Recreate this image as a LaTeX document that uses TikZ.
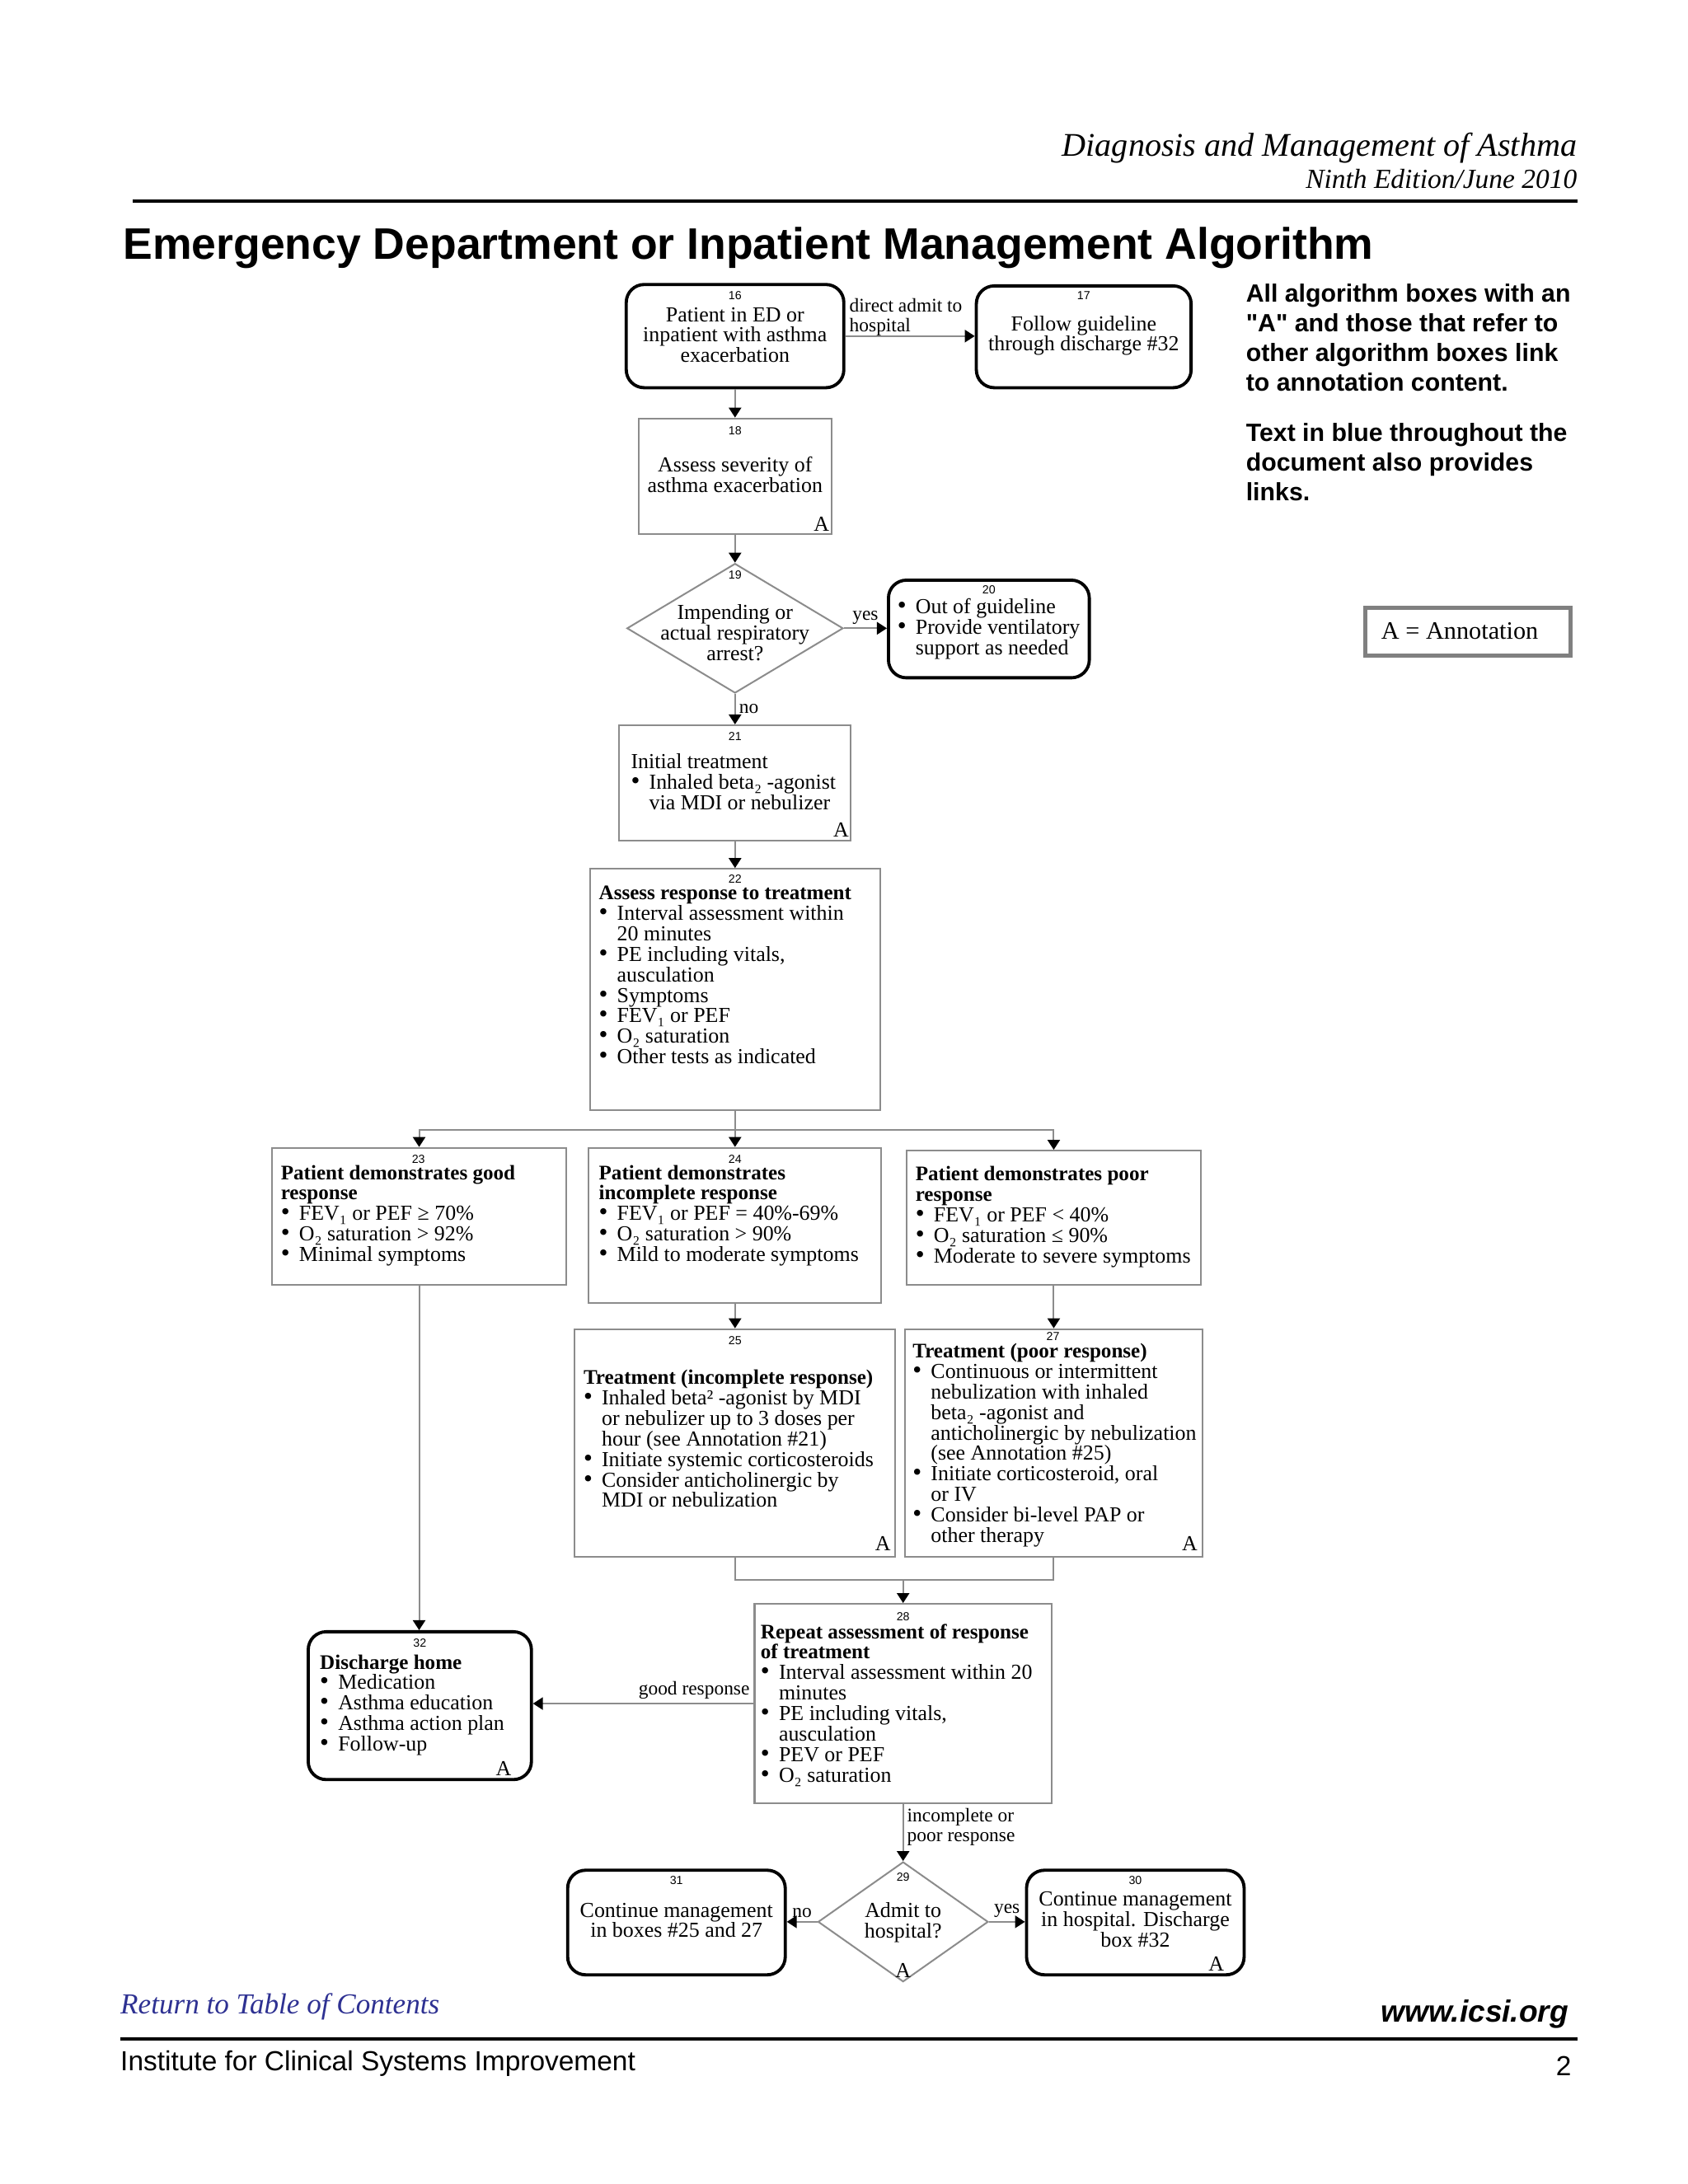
\documentclass[tikz,border=0pt]{standalone}
\usepackage{fontspec}
\setmainfont{Liberation Serif}
\setsansfont{Liberation Sans}
\usepackage{xcolor}
\usepackage{graphicx}
\usetikzlibrary{arrows.meta, fit, shapes.geometric}
\definecolor{linkblue}{RGB}{46,49,146}
\definecolor{boxgray}{gray}{0.55}
\newcommand{\boxfont}{\fontsize{7.75}{7.43}\selectfont\lineskiplimit=-5pt}
\newcommand{\bhead}[1]{{\fontsize{7.5}{7.43}\selectfont\bfseries #1}}
\newcommand{\bitem}{\makebox[6.6pt][l]{\scalebox{1.2}{\textbullet}}}
\newcommand{\bcont}{\hspace*{6.6pt}}
\tikzset{
    box/.style={draw=boxgray, line width=0.6pt, inner sep=0pt}, % plain algorithm box
    rbox/.style={draw=black, line width=1.15pt, rounded corners=6.5pt, inner sep=0pt}, % rounded start/end box
    dec/.style={draw=boxgray, line width=0.6pt, diamond, inner sep=0pt}, % decision box
    num/.style={anchor=base, inner sep=0pt, font=\fontsize{4.25}{5}\selectfont\sffamily}, % box number
    txt/.style={anchor=north west, inner sep=0pt, align=left, font=\boxfont}, % left aligned box text
    ctxt/.style={anchor=north, inner sep=0pt, align=center, font=\boxfont}, % centred box text
    amark/.style={anchor=base east, inner sep=0pt, font=\boxfont}, % annotation mark
    lbl/.style={inner sep=1.2pt, font=\fontsize{7}{7.3}\selectfont}, % connector label
    conn/.style={draw=boxgray, line width=0.6pt}, % plain connector
    arr/.style={conn, -{Triangle[width=4.5pt, length=3.6pt, color=black]}}, % connector with head
    note/.style={anchor=north west, inner sep=0pt, align=left, font=\fontsize{9.05}{10.82}\selectfont\sffamily\bfseries},
}

\begin{document}
\begin{tikzpicture}[x=0.5058pt, y=-0.5058pt]
    \useasboundingbox (0,0) rectangle (1210,1566);
    \fill[white] (0,0) rectangle (1210,1566);

    % page header
    \node[anchor=base east, inner sep=0pt, font=\fontsize{12}{14}\selectfont\itshape] (hdtitle) at (1131,112) {Diagnosis and Management of Asthma};
    \node[anchor=base east, inner sep=0pt, font=\fontsize{10}{12}\selectfont\itshape] (hdedition) at (1131,135) {Ninth Edition/June 2010};
    \draw[line width=1.3pt] (95,144) -- (1131,144);
    \node[anchor=base west, inner sep=0pt, font=\fontsize{16}{18}\selectfont\sffamily\bfseries] (title) at (88,186) {Emergency Department or Inpatient Management Algorithm};

    % notes on the right
    \node[note] (note1) at (893,203) {All algorithm boxes with an\\\textquotedbl A\textquotedbl{} and those that refer to\\other algorithm boxes link\\to annotation content.};
    \node[note] (note2) at (893,303) {Text in blue throughout the\\document also provides\\links.};
    \node[draw=gray, line width=1.6pt, inner sep=0pt, fit={(979,436) (1126,470)}] (annobox) {};
    \node[anchor=base west, inner sep=0pt, font=\fontsize{9.05}{11}\selectfont] (annotext) at (990,458) {A = Annotation};

    % algorithm boxes
    \node[rbox, fit={(449,204) (605,278)}] (b16) {};
    \node[rbox, fit={(700,205) (854,278)}] (b17) {};
    \node[box, fit={(458,300) (596,383)}] (b18) {};
    \node[dec, minimum width=78.4pt, minimum height=47pt] (d19) at (527,450.5) {};
    \node[rbox, fit={(637,416) (781,486)}] (b20) {};
    \node[box, fit={(444,520) (610,603)}] (b21) {};
    \node[box, fit={(423,623) (631,796)}] (b22) {};
    \node[box, fit={(195,823) (406,921)}] (b23) {};
    \node[box, fit={(422,823) (632,934)}] (b24) {};
    \node[box, fit={(650,825) (861,921)}] (b26) {};
    \node[box, fit={(412,953) (642,1116)}] (b25) {};
    \node[box, fit={(649,953) (862,1116)}] (b27) {};
    \node[box, fit={(541,1150) (754,1293)}] (b28) {};
    \node[rbox, fit={(221,1170) (381,1276)}] (b32) {};
    \node[dec, minimum width=61.7pt, minimum height=43.5pt] (d29) at (647.5,1378) {};
    \node[rbox, fit={(407,1341) (563,1416)}] (b31) {};
    \node[rbox, fit={(736,1341) (892,1416)}] (b30) {};

    % box numbers
    \node[num] (n16) at (527,215) {16};
    \node[num] (n17) at (777,215) {17};
    \node[num] (n18) at (527,312) {18};
    \node[num] (n19) at (527,415) {19};
    \node[num] (n20) at (709,426) {20};
    \node[num] (n21) at (527,531) {21};
    \node[num] (n22) at (527,633) {22};
    \node[num] (n23) at (300,834) {23};
    \node[num] (n24) at (527,834) {24};
    \node[num] (n25) at (527,964) {25};
    \node[num] (n27) at (755,961) {27};
    \node[num] (n28) at (647.5,1162) {28};
    \node[num] (n32) at (301,1181) {32};
    \node[num] (n29) at (647.5,1349) {29};
    \node[num] (n31) at (485,1351) {31};
    \node[num] (n30) at (814,1351) {30};

    % box texts
    \node[ctxt] (t16) at (527,220) {Patient in ED or\\inpatient with asthma\\exacerbation};
    \node[ctxt] (t17) at (777,226) {Follow guideline\\through discharge \#32};
    \node[ctxt] (t18) at (527,327) {Assess severity of\\asthma exacerbation};
    \node[amark] (a18) at (595,381) {A};
    \node[ctxt] (t19) at (527,433) {Impending or\\actual respiratory\\arrest?};
    \node[txt] (t20) at (643,429) {\bitem Out of guideline\\\bitem Provide ventilatory\\\bcont support as needed};
    \node[txt] (t21) at (452,540) {Initial treatment\\\bitem Inhaled beta₂ -agonist\\\bcont via MDI or nebulizer};
    \node[amark] (a21) at (609,600) {A};
    \node[txt] (t22) at (429,635) {\bhead{Assess response to treatment}\\\bitem Interval assessment within\\\bcont 20 minutes\\\bitem PE including vitals,\\\bcont ausculation\\\bitem Symptoms\\\bitem FEV₁ or PEF\\\bitem O₂ saturation\\\bitem Other tests as indicated};
    \node[txt] (t23) at (201,835) {\bhead{Patient demonstrates good}\\\bhead{response}\\\bitem FEV₁ or PEF ≥ 70\%\\\bitem O₂ saturation > 92\%\\\bitem Minimal symptoms};
    \node[txt] (t24) at (429,835) {\bhead{Patient demonstrates}\\\bhead{incomplete response}\\\bitem FEV₁ or PEF = 40\%-69\%\\\bitem O₂ saturation > 90\%\\\bitem Mild to moderate symptoms};
    \node[txt] (t26) at (656,836) {\bhead{Patient demonstrates poor}\\\bhead{response}\\\bitem FEV₁ or PEF < 40\%\\\bitem O₂ saturation ≤ 90\%\\\bitem Moderate to severe symptoms};
    \node[txt] (t25) at (418,982) {\bhead{Treatment (incomplete response)}\\\bitem Inhaled beta² -agonist by MDI\\\bcont or nebulizer up to 3 doses per\\\bcont hour (see Annotation \#21)\\\bitem Initiate systemic corticosteroids\\\bitem Consider anticholinergic by\\\bcont MDI or nebulization};
    \node[amark] (a25) at (639,1112) {A};
    \node[txt] (t27) at (654,963) {\bhead{Treatment (poor response)}\\\bitem Continuous or intermittent\\\bcont nebulization with inhaled\\\bcont beta₂ -agonist and\\\bcont anticholinergic by nebulization\\\bcont (see Annotation \#25)\\\bitem Initiate corticosteroid, oral\\\bcont or IV\\\bitem Consider bi-level PAP or\\\bcont other therapy};
    \node[amark] (a27) at (859,1112) {A};
    \node[txt] (t28) at (545,1164) {\bhead{Repeat assessment of response}\\\bhead{of treatment}\\\bitem Interval assessment within 20\\\bcont minutes\\\bitem PE including vitals,\\\bcont ausculation\\\bitem PEV or PEF\\\bitem O₂ saturation};
    \node[txt] (t32) at (229,1186) {\bhead{Discharge home}\\\bitem Medication\\\bitem Asthma education\\\bitem Asthma action plan\\\bitem Follow-up};
    \node[amark] (a32) at (367,1273) {A};
    \node[ctxt] (t29) at (647.5,1364) {Admit to\\hospital?};
    \node[amark, anchor=base] (a29) at (647.5,1418) {A};
    \node[ctxt] (t31) at (485,1364) {Continue management\\in boxes \#25 and 27};
    \node[ctxt] (t30) at (814,1356) {Continue management\\in hospital. Discharge\\box \#32};
    \node[amark] (a30) at (878,1413) {A};

    % connectors
    \draw[arr] (b16.east) -- node[lbl, above right, pos=0, align=left, yshift=-1.5pt] {direct admit to\\hospital} (b16.east -| b17.west);
    \draw[arr] (b16.south) -- (b16.south |- b18.north);
    \draw[arr] (b18.south) -- (d19.north);
    \draw[arr] (d19.east) -- node[lbl, above] {yes} (d19.east -| b20.west);
    \draw[arr] (d19.south) -- node[lbl, right] {no} (b21.north);
    \draw[arr] (b21.south) -- (b22.north);
    \coordinate (split) at (527,810);
    \draw[conn] (b22.south) -- (split);
    \draw[arr] (split) -| (b23.north);
    \draw[arr] (split) -- (b24.north);
    \draw[arr] (split) -| (b26.north);
    \draw[arr] (b24.south) -- (b25.north);
    \draw[arr] (b26.south) -- (b27.north);
    \draw[arr] (b23.south) -- (b23.south |- b32.north);
    \coordinate (join) at (647.5,1133);
    \draw[conn] (b25.south) |- (join);
    \draw[conn] (b27.south) |- (join);
    \draw[arr] (join) -- (b28.north);
    \draw[arr] (b28.west) -- node[lbl, above left, pos=0] {good response} (b28.west -| b32.east);
    \draw[arr] (b28.south) -- node[lbl, below right, pos=0, align=left] {incomplete or\\poor response} (d29.north);
    \draw[arr] (d29.west) -- node[lbl, above] {no} (d29.west -| b31.east);
    \draw[arr] (d29.east) -- node[lbl, above] {yes} (d29.east -| b30.west);

    % page footer
    \node[anchor=base west, inner sep=0pt, font=\fontsize{10.5}{12}\selectfont\itshape, text=linkblue] (toc) at (86,1444) {Return to Table of Contents};
    \node[anchor=base east, inner sep=0pt, font=\fontsize{11.1}{13}\selectfont\sffamily\bfseries\itshape] (web) at (1125,1450) {www.icsi.org};
    \draw[line width=1.3pt] (86,1462) -- (1131,1462);
    \node[anchor=base west, inner sep=0pt, font=\fontsize{10}{12}\selectfont\sffamily] (inst) at (86,1485) {Institute for Clinical Systems Improvement};
    \node[anchor=base east, inner sep=0pt, font=\fontsize{10}{12}\selectfont\sffamily] (page) at (1127,1488) {2};
\end{tikzpicture}
\end{document}
